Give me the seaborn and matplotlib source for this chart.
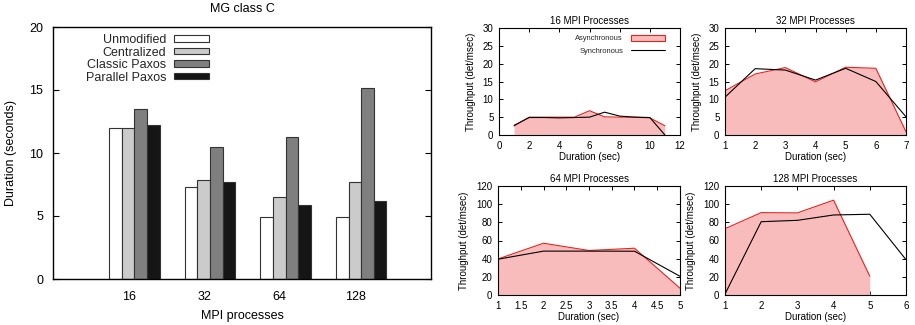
import matplotlib
matplotlib.use("Agg")
import matplotlib.pyplot as plt
import seaborn as sns
import pandas as pd
import numpy as np
from matplotlib.patches import Patch
from matplotlib.lines import Line2D

sns.set_theme(style="white")
plt.rcParams['font.family'] = ['Liberation Sans', 'DejaVu Sans']
plt.rcParams['xtick.direction'] = 'in'
plt.rcParams['ytick.direction'] = 'in'

# ---------------- data ----------------
mpi_groups = ["16", "32", "64", "128"]
schemes = ["Unmodified", "Centralized", "Classic Paxos", "Parallel Paxos"]
unmodified = [12.0, 7.27, 4.96, 4.96]
centralized = [12.0, 7.82, 6.47, 7.67]
classic_paxos = [13.47, 10.48, 11.25, 15.17]
parallel_paxos = [12.2, 7.69, 5.84, 6.18]
bar_colors = ["#ffffff", "#cbcbcb", "#7f7f7f", "#151515"]

t16 = [1, 2, 3, 4, 5, 6, 7, 8, 9, 10, 11]
async16 = [2.5, 5.0, 5.0, 5.0, 5.0, 6.8, 5.1, 5.0, 5.0, 4.8, 2.6]
sync16 = [2.7, 4.9, 4.9, 4.8, 4.9, 5.0, 6.4, 5.3, 5.0, 4.9, 0.0]

t32 = [1, 2, 3, 4, 5, 6, 7]
async32 = [12.4, 17.1, 18.9, 14.9, 19.0, 18.7, 0.9]
sync32 = [10.6, 18.6, 18.2, 15.4, 18.7, 15.0, 5.1]

t64 = [1, 2, 3, 4, 5]
async64 = [39.7, 57.0, 49.0, 51.5, 7.5]
sync64 = [39.4, 48.3, 48.3, 48.2, 20.6]

t128_async = [1, 2, 3, 4, 5]
async128 = [73.0, 90.7, 90.4, 104.4, 20.7]
t128_sync = [1, 2, 3, 4, 5, 6]
sync128 = [1.0, 80.7, 82.2, 88.1, 88.9, 38.9]

W, H = 915, 325
fig = plt.figure(figsize=(W / 100, H / 100), dpi=100)


def px_axes(x0, y0, x1, y1):
    return fig.add_axes([x0 / W, 1 - y1 / H, (x1 - x0) / W, (y1 - y0) / H])


# ---------------- left bar chart ----------------
df = pd.DataFrame({
    "group": np.repeat(mpi_groups, len(schemes)),
    "scheme": schemes * len(mpi_groups),
    "value": np.array([unmodified, centralized, classic_paxos, parallel_paxos]).T.ravel(),
})
ax = px_axes(53, 27, 431, 279)
sns.barplot(data=df, x="group", y="value", hue="scheme", order=mpi_groups,
            hue_order=schemes, palette=bar_colors, width=0.667, gap=0,
            edgecolor="#333333", linewidth=0.8, ax=ax, legend=False, errorbar=None)
shift = 0.077
ax.set_xlim(-1 - shift, 4 - shift)
ax.set_xticks([i - shift for i in range(4)])
ax.set_xticklabels(mpi_groups)
ax.set_ylim(0, 20)
ax.set_yticks([0, 5, 10, 15, 20])
ax.tick_params(axis="y", direction="in", length=4, width=0.8, left=True, right=True,
               labelsize=9, pad=7, colors="black")
ax.tick_params(axis="x", length=0, labelsize=9, pad=9, colors="black")
ax.set_xlabel("MPI processes", fontsize=9, labelpad=5, color="black")
ax.set_ylabel("Duration (seconds)", fontsize=9, labelpad=9, color="black")
ax.set_title("MG class C", fontsize=9, pad=11, color="black")
for s in ax.spines.values():
    s.set_color("black")
    s.set_linewidth(1.0)
handles = [Patch(facecolor=c, edgecolor="#333333", linewidth=0.8) for c in bar_colors]
ax.legend(handles, schemes, loc="upper right", bbox_to_anchor=(0.426, 0.992),
          fontsize=9, markerfirst=False, frameon=False, handlelength=2.8,
          handleheight=0.4, labelspacing=0.04, handletextpad=0.64, borderaxespad=0.0)

# ---------------- right panels ----------------
FILL = "#f9bcbc"
RED = "#e8231e"


def panel(rect, title, ta, ya, ts, ys, xlim, xticks, ylim, yticks, legend=False, xtick_fmt=None):
    a = px_axes(*rect)
    a.fill_between(ta, ya, 0, color=FILL, linewidth=0)
    sns.lineplot(x=ta, y=ya, color=RED, linewidth=0.8, ax=a)
    sns.lineplot(x=ts, y=ys, color="black", linewidth=0.8, ax=a)
    a.set_xlim(*xlim)
    a.set_ylim(*ylim)
    a.set_xticks(xticks)
    if xtick_fmt:
        a.set_xticklabels(xtick_fmt)
    a.set_yticks(yticks)
    a.tick_params(direction="in", length=3, top=True, right=True, left=True, bottom=True,
                  labelsize=7, pad=4, colors="black", width=0.7)
    a.set_xlabel("Duration (sec)", fontsize=7, labelpad=1, color="black")
    a.set_ylabel("Throughput (det/msec)", fontsize=7, labelpad=5, color="black")
    a.set_title(title, fontsize=7, pad=3, color="black")
    for s in a.spines.values():
        s.set_color("black")
        s.set_linewidth(0.8)
    if legend:
        h = [Patch(facecolor=FILL, edgecolor=RED, linewidth=0.8),
             Line2D([0], [0], color="black", linewidth=0.8)]
        a.legend(h, ["Asynchronous", "Synchronous"], loc="upper right",
                 bbox_to_anchor=(0.934, 0.965),
                 fontsize=5.4, markerfirst=False, frameon=False, handlelength=4.6,
                 handleheight=0.9, labelspacing=0.6, handletextpad=1.0, borderaxespad=0.0)
    return a


panel((499, 28, 680, 135), "16 MPI Processes", t16, async16, t16, sync16,
      (0, 12), [0, 2, 4, 6, 8, 10, 12], (0, 30), [0, 5, 10, 15, 20, 25, 30], legend=True)
panel((725, 28, 906, 135), "32 MPI Processes", t32, async32, t32, sync32,
      (1, 7), [1, 2, 3, 4, 5, 6, 7], (0, 30), [0, 5, 10, 15, 20, 25, 30])
panel((498, 186, 680, 295), "64 MPI Processes", t64, async64, t64, sync64,
      (1, 5), [1, 1.5, 2, 2.5, 3, 3.5, 4, 4.5, 5], (0, 120), [0, 20, 40, 60, 80, 100, 120],
      xtick_fmt=["1", "1.5", "2", "2.5", "3", "3.5", "4", "4.5", "5"])
panel((725, 186, 906, 295), "128 MPI Processes", t128_async, async128, t128_sync, sync128,
      (1, 6), [1, 2, 3, 4, 5, 6], (0, 120), [0, 20, 40, 60, 80, 100, 120])

fig.savefig("out.png", dpi=100)
